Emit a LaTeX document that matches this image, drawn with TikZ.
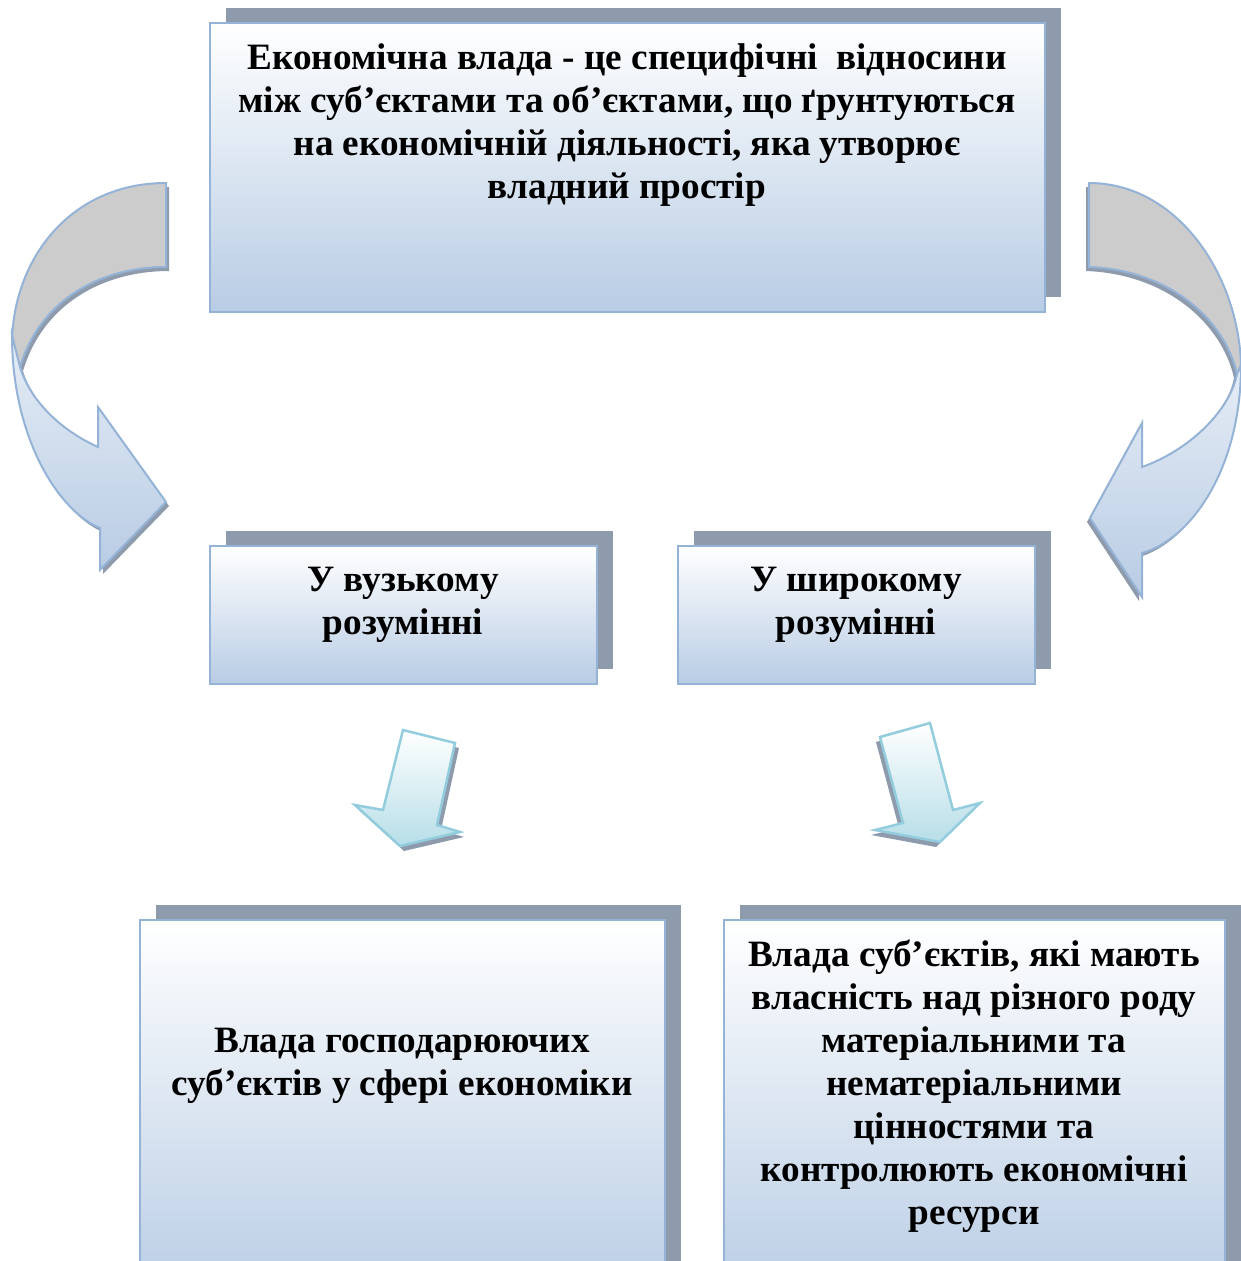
\documentclass[tikz,border=0pt]{standalone}
\usepackage{fontspec}
\setmainfont{Liberation Serif}
\usetikzlibrary{shadows}
\definecolor{bxborder}{HTML}{95B3D7}
\definecolor{bxbottom}{HTML}{B8CCE4}
\definecolor{bxtop}{HTML}{E6EDF6}
\definecolor{shad}{HTML}{8E9BAD}
\definecolor{ribgray}{HTML}{CCCCCC}
\definecolor{tealb}{HTML}{93CDDD}
\definecolor{tealf}{HTML}{B7DEE8}
\tikzset{
  box/.style={draw=bxborder, line width=2.5pt, top color=white, bottom color=bxbottom,
    drop shadow={shadow xshift=16pt, shadow yshift=15pt, fill=shad, opacity=1}},
  txt/.style={font=\fontsize{37.2}{43}\selectfont\bfseries, align=center, inner sep=0pt},
  ribbonblue/.style={draw=bxborder, line width=2pt, top color=bxtop, bottom color=bxbottom},
  ribbongray/.style={draw=bxborder, line width=2pt, fill=ribgray},
  ribshadow/.style={fill=shad},
  smallarrow/.style={draw=tealb, line width=2.5pt, top color=white, bottom color=tealf, line join=miter},
  smallshadow/.style={fill=shad}
}
\begin{document}
\begin{tikzpicture}[x=1pt,y=-1pt]
\clip (0,0) rectangle (1241,1261);
\fill[white] (0,0) rectangle (1241,1261);

% ---------- boxes ----------
\node[box, minimum width=835pt, minimum height=289pt] (top) at (627.5,167.5) {};
\node[txt] (toptext) at (627,125) {Економічна влада - це специфічні\ \ відносини\\між суб’єктами та об’єктами, що ґрунтуються\\на економічній діяльності, яка утворює\\владний простір};

\node[box, minimum width=387pt, minimum height=138pt] (narrow) at (403.5,615) {};
\node[txt] (narrowtext) at (403,605) {У вузькому\\розумінні};

\node[box, minimum width=357pt, minimum height=138pt] (wide) at (856.5,615) {};
\node[txt] (widetext) at (856,605) {У широкому\\розумінні};

\node[box, minimum width=525pt, minimum height=380pt] (bl) at (402.5,1110) {};
\node[txt] (bltext) at (402,1066) {Влада господарюючих\\суб’єктів у сфері економіки};

\node[box, minimum width=501pt, minimum height=380pt] (br) at (974.5,1110) {};
\node[txt] (brtext) at (974,1086) {Влада суб’єктів, які мають\\власність над різного роду\\матеріальними та\\нематеріальними\\цінностями та\\контролюють економічні\\ресурси};

% ---------- left curved arrow ----------
\begin{scope}[shift={(3,4)}]
\fill[ribshadow] (166,183) .. controls (70,183) and (12,260) .. (12,345) -- (20,367)
  .. controls (40,300) and (100,267) .. (166,267) -- cycle;
\fill[ribshadow] (12,335) .. controls (12,440) and (60,512) .. (100,528) -- (100,570) -- (166,502)
  -- (98,407) -- (98,447) .. controls (60,430) and (30,400) .. (20,367) -- cycle;
\end{scope}
\path[ribbongray] (166,183) .. controls (70,183) and (12,260) .. (12,345) -- (20,367)
  .. controls (40,300) and (100,267) .. (166,267) -- cycle;
\path[ribbonblue] (12,335) .. controls (12,440) and (60,512) .. (100,528) -- (100,570) -- (166,502)
  -- (98,407) -- (98,447) .. controls (60,430) and (30,400) .. (20,367) -- cycle;

% ---------- right curved arrow ----------
\begin{scope}[shift={(-3,4)}]
\fill[ribshadow] (1089,183) .. controls (1180,183) and (1241,280) .. (1241,370) -- (1237,374)
  .. controls (1225,320) and (1170,270) .. (1089,267) -- cycle;
\fill[ribshadow] (1241,365) .. controls (1241,470) and (1190,540) .. (1142,553) -- (1142,597) -- (1090,518)
  -- (1142,423) -- (1142,467) .. controls (1190,450) and (1230,410) .. (1237,374) -- cycle;
\end{scope}
\path[ribbongray] (1089,183) .. controls (1180,183) and (1241,280) .. (1241,370) -- (1237,374)
  .. controls (1225,320) and (1170,270) .. (1089,267) -- cycle;
\path[ribbonblue] (1241,365) .. controls (1241,470) and (1190,540) .. (1142,553) -- (1142,597) -- (1090,518)
  -- (1142,423) -- (1142,467) .. controls (1190,450) and (1230,410) .. (1237,374) -- cycle;

% ---------- small down arrows ----------
\fill[smallshadow] (407,735) -- (459,748) -- (441,830) -- (464,837) -- (404,851) -- (359,810) -- (387,815) -- cycle;
\path[smallarrow] (403,730) -- (455,743) -- (437,825) -- (460,832) -- (400,846) -- (355,805) -- (383,810) -- cycle;

\fill[smallshadow] (876,742) -- (926,728) -- (949,815) -- (976,808) -- (936,847) -- (871,835) -- (899,828) -- cycle;
\path[smallarrow] (880,737) -- (930,723) -- (953,810) -- (980,803) -- (940,842) -- (875,830) -- (903,823) -- cycle;
\end{tikzpicture}
\end{document}
